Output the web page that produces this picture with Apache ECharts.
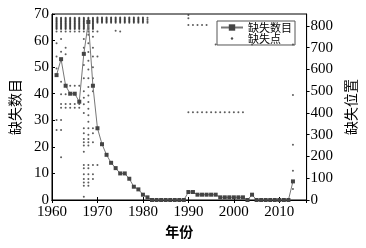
<!DOCTYPE html>
<html>
<head>
<meta charset="utf-8">
<script src="https://cdn.jsdelivr.net/npm/echarts@6/dist/echarts.min.js"></script>
<style>
  html, body { margin: 0; padding: 0; background: #fff; }
  #chart { width: 366px; height: 248px; }
</style>
</head>
<body>
<div id="chart"></div>
<script>
// 缺失数目 (left axis), one value per year 1961-2013
var lineYears = [1961, 1962, 1963, 1964, 1965, 1966, 1967, 1968, 1969, 1970,
  1971, 1972, 1973, 1974, 1975, 1976, 1977, 1978, 1979, 1980,
  1981, 1982, 1983, 1984, 1985, 1986, 1987, 1988, 1989, 1990,
  1991, 1992, 1993, 1994, 1995, 1996, 1997, 1998, 1999, 2000,
  2001, 2002, 2003, 2004, 2005, 2006, 2007, 2008, 2009, 2010,
  2011, 2012, 2013];
var missCount = [47, 53, 43, 40, 40, 37, 55, 67, 43, 27,
  21, 17, 14, 12, 10, 10, 8, 5, 4, 2,
  1, 0, 0, 0, 0, 0, 0, 0, 0, 3,
  3, 2, 2, 2, 2, 2, 1, 1, 1, 1,
  1, 1, 0, 2, 0, 0, 0, 0, 0, 0,
  0, 0, 7];

// 缺失点 (right axis): positions missing in each year
var topBlock = [786, 790, 794, 798, 802, 806, 810, 814, 818, 822, 826, 830, 834, 838];
var topShort = [815, 819, 823, 827, 831, 835, 839];
var pointYears = [1961, 1962, 1963, 1964, 1965, 1966, 1967, 1968, 1969, 1970,
  1971, 1972, 1973, 1974, 1975, 1976, 1977, 1978, 1979, 1980,
  1981, 1990, 1991, 1992, 1993, 1994, 1995, 1996, 1997, 1998,
  1999, 2000, 2001, 2002, 2004, 2013];
var pointPos = [
  topBlock.concat([774, 720, 660, 605, 368, 322]),
  topBlock.concat([774, 740, 682, 544, 486, 441, 424, 368, 322, 196]),
  topBlock.concat([774, 700, 670, 525, 486, 441, 424]),
  topBlock.concat([774, 525, 490, 441, 424]),
  topBlock.concat([774, 525, 490, 441, 424]),
  topBlock.concat([774, 525, 441, 424]),
  topBlock.concat([774, 740, 700, 620, 560, 500, 470, 440, 400, 330, 307, 280, 265, 250, 222, 161, 146, 118, 97, 81, 66, 15]),
  topBlock.concat([774, 760, 720, 680, 640, 600, 560, 520, 480, 450, 420, 390, 360, 330, 300, 280, 265, 250, 161, 146, 118, 97, 81, 66]),
  topBlock.concat([774, 750, 700, 660, 610, 560, 500, 330, 307, 265, 161, 118, 97]),
  topShort.concat([774, 660, 161]),
  topShort, topShort, topShort,
  topShort.concat([778]),
  topShort.concat([774]),
  topShort, topShort, topShort, topShort, topShort,
  [815, 822, 830, 838],
  [850, 835, 805, 403],
  [805, 403], [805, 403], [805, 403], [805, 403],
  [403], [715, 403], [403], [403], [403], [403], [403], [403],
  [715],
  [715, 483, 254, 135, 50]
];

var lineData = lineYears.map(function (y, i) { return [y, missCount[i]]; });
var pointData = [];
pointYears.forEach(function (y, i) {
  pointPos[i].forEach(function (p) { pointData.push([y, p]); });
});

var serif = 'Liberation Serif';
var cjk = 'Noto Sans CJK SC';
// small dot for the legend of 缺失点
var dotIcon = 'image://data:image/svg+xml;utf8,' + encodeURIComponent(
  '<svg xmlns="http://www.w3.org/2000/svg" width="22" height="8"><circle cx="11" cy="4" r="1.2" fill="#222"/></svg>');

var myChart = echarts.init(document.getElementById('chart'));
myChart.setOption({
  animation: false,
  grid: {
    left: 47, right: 57, top: 14, bottom: 48,
    show: true, borderColor: '#000', borderWidth: 1, backgroundColor: 'transparent'
  },
  legend: {
    right: 71, top: 21,
    orient: 'vertical',
    itemGap: 0,
    itemWidth: 22, itemHeight: 8,
    padding: [1, 3, 1, 3],
    borderColor: '#555', borderWidth: 1,
    textStyle: { fontFamily: cjk, fontSize: 11, color: '#000', lineHeight: 10 },
    data: ['缺失数目', { name: '缺失点', icon: dotIcon }]
  },
  xAxis: [{
    type: 'value', min: 1960, max: 2016, interval: 10,
    name: '年份', nameLocation: 'middle', nameGap: 25,
    nameTextStyle: { fontFamily: cjk, fontSize: 14, color: '#000', fontWeight: 'bold' },
    axisLine: { lineStyle: { color: '#000' } },
    axisTick: { inside: true, length: 3, lineStyle: { color: '#000' } },
    axisLabel: {
      fontFamily: serif, fontSize: 15, color: '#000', margin: 5, showMaxLabel: false,
      formatter: function (v) { return String(v); }
    },
    splitLine: { show: false }
  }, {
    type: 'value', min: 1960, max: 2016, interval: 10, position: 'top',
    axisLine: { lineStyle: { color: '#000' } },
    axisTick: { inside: true, length: 3, lineStyle: { color: '#000' } },
    axisLabel: { show: false },
    splitLine: { show: false }
  }],
  yAxis: [{
    type: 'value', min: 0, max: 70, interval: 10,
    name: '缺失数目', nameLocation: 'middle', nameGap: 30, nameRotate: 90,
    nameTextStyle: { fontFamily: cjk, fontSize: 14, color: '#000' },
    axisLine: { show: true, lineStyle: { color: '#000' } },
    axisTick: { show: true, inside: true, length: 3, lineStyle: { color: '#000' } },
    axisLabel: { fontFamily: serif, fontSize: 15, color: '#000', margin: 3 },
    splitLine: { show: false }
  }, {
    type: 'value', min: 0, max: 855, interval: 100,
    name: '缺失位置', nameLocation: 'middle', nameGap: 36, nameRotate: 90,
    nameTextStyle: { fontFamily: cjk, fontSize: 14, color: '#000' },
    axisLine: { show: true, lineStyle: { color: '#000' } },
    axisTick: { show: true, length: 3, lineStyle: { color: '#000' } },
    axisLabel: { fontFamily: serif, fontSize: 15, color: '#000', margin: 4, showMaxLabel: false },
    splitLine: { show: false }
  }],
  series: [{
    name: '缺失点',
    type: 'scatter',
    xAxisIndex: 0, yAxisIndex: 1,
    symbol: 'circle', symbolSize: 2,
    itemStyle: { color: '#333' },
    data: pointData,
    z: 2
  }, {
    name: '缺失数目',
    type: 'line',
    xAxisIndex: 0, yAxisIndex: 0,
    symbol: 'rect', symbolSize: 4,
    showAllSymbol: true,
    lineStyle: { color: '#777', width: 1 },
    itemStyle: { color: '#444' },
    data: lineData,
    z: 3
  }]
});
</script>
</body>
</html>
